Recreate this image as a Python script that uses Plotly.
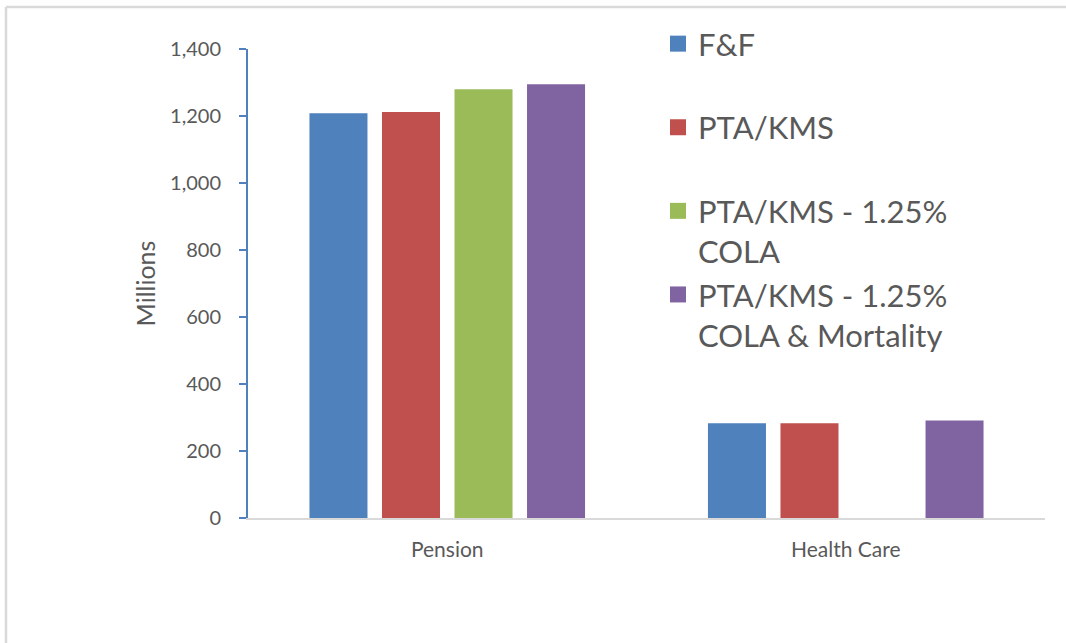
import plotly.graph_objects as go

categories = ["Pension", "Health Care"]
series_names = ["F&F<br> ", "PTA/KMS<br> ", "PTA/KMS - 1.25%<br>COLA", "PTA/KMS - 1.25%<br>COLA & Mortality"]
ff_values = [1208, 283]
pta_values = [1212, 283]
pta_cola_values = [1280, None]
pta_cola_mort_values = [1295, 291]
colors = ["#4F81BD", "#C0504D", "#9BBB59", "#8064A2"]
y_tick_vals = [0, 200, 400, 600, 800, 1000, 1200, 1400]

all_values = [ff_values, pta_values, pta_cola_values, pta_cola_mort_values]

fig = go.Figure()
for i, (name, vals, col) in enumerate(zip(series_names, all_values, colors)):
    fig.add_trace(go.Bar(x=categories, y=vals, name=name.replace("<br> ", "").replace("<br>", " "),
                         marker=dict(color=col, line=dict(width=0)),
                         showlegend=False, legendgroup=f"g{i}"))
    fig.add_trace(go.Scatter(x=[None], y=[None], mode="markers", name=name,
                             marker=dict(symbol="square", size=16, color=col),
                             legendgroup=f"g{i}", showlegend=True))

W, H = 1066, 643
L, R, T, B = 248, 21, 49, 125
pw, ph = W - L - R, H - T - B

def px_x(p):
    return (p - L) / pw

def px_y(p):
    return (H - B - p) / ph

border = "#D9D9D9"
fig.update_layout(
    width=W, height=H,
    margin=dict(l=L, r=R, t=T, b=B),
    paper_bgcolor="white", plot_bgcolor="white",
    barmode="group", bargap=0.272, bargroupgap=0.2,
    font=dict(family="Lato, Open Sans, sans-serif", color="#595959"),
    legend=dict(x=px_x(658), y=px_y(17), xanchor="left", yanchor="top",
                font=dict(size=31, color="#595959"), valign="top",
                tracegroupgap=0, bgcolor="rgba(0,0,0,0)", maxheight=620),
    shapes=[
        dict(type="line", xref="paper", yref="paper", x0=px_x(6), x1=px_x(6), y0=px_y(7), y1=px_y(643),
             line=dict(color=border, width=2.5)),
        dict(type="line", xref="paper", yref="paper", x0=px_x(6), x1=px_x(1066), y0=px_y(7), y1=px_y(7),
             line=dict(color=border, width=2.5)),
    ],
)
fig.update_yaxes(range=[0, 1400], tickvals=y_tick_vals, tickformat=",", showgrid=False, zeroline=False,
                 showline=True, linecolor="#4F81BD", linewidth=2,
                 ticks="outside", ticklen=7, tickcolor="#4F81BD", tickwidth=2,
                 tickfont=dict(size=20, color="#595959"), ticklabelstandoff=14,
                 title=dict(text="Millions", font=dict(size=25, color="#595959"), standoff=7))
fig.update_xaxes(showgrid=False, showline=True, linecolor="#D9D9D9", linewidth=2, ticks="",
                 tickfont=dict(size=21, color="#595959"), ticklabelstandoff=12)

fig.write_html("out.html")
